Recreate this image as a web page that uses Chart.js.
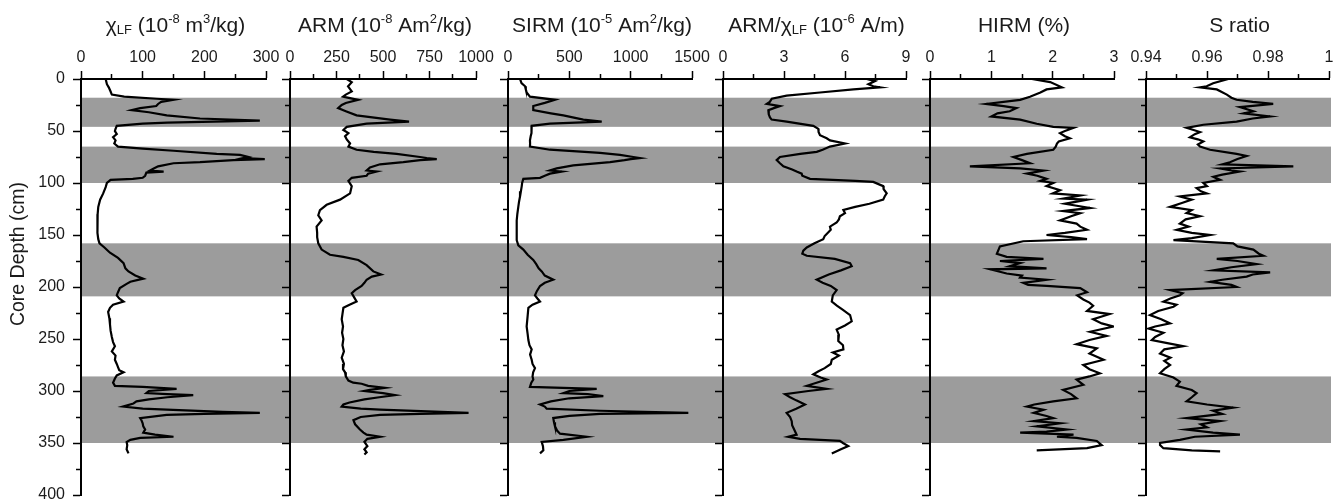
<!DOCTYPE html>
<html>
<head>
<meta charset="utf-8">
<script src="https://cdn.jsdelivr.net/npm/chart.js@4.4.0/dist/chart.umd.min.js"></script>
<style>
  html, body { margin: 0; padding: 0; background: #fff; }
  #wrap { position: relative; width: 1342px; height: 502px; overflow: hidden; }
  #wrap canvas { position: absolute; left: 0; top: 0; }
</style>
</head>
<body>
<div id="wrap"></div>
<script>
// ---- data: [core depth (cm), value] ----
const chiLF = [[0,40],[5,42],[8,45],[12,48],[15,50],[17,70],[19,123],[20,150],[22,130],[24,125],[26,122],[28,96],[30,82],[32,110],[35,139],[38,193],[40,290],[42,140],[43,100],[45,58],[48,56],[50,55],[53,58],[56,52],[59,56],[62,54],[65,60],[67,100],[69,150],[72,220],[73,258],[75,271],[76,263],[77,298],[78,247],[80,193],[81,150],[84,125],[86,118],[88,112],[89,134],[90,106],[93,104],[95,100],[96,84],[97,48],[100,42],[104,40],[110,36],[116,31],[123,28],[130,27],[136,26],[142,27],[148,27],[154,28],[158,30],[162,38],[167,47],[172,60],[177,69],[182,72],[185,77],[189,88],[192,101],[195,80],[197,74],[201,63],[205,60],[208,58],[211,62],[214,69],[217,52],[220,47],[224,44],[230,46],[236,47],[242,48],[248,50],[253,52],[257,55],[262,50],[266,56],[270,55],[274,58],[277,60],[280,62],[282,69],[285,58],[288,55],[292,52],[295,55],[296,100],[298,155],[300,110],[302,106],[303,140],[304,182],[306,140],[308,110],[310,90],[312,85],[315,68],[317,100],[318,139],[320,230],[321,290],[322,200],[323,139],[326,96],[328,98],[331,100],[334,101],[337,104],[340,101],[342,120],[344,150],[345,96],[347,80],[349,74],[352,75],[356,74],[360,77]];

const arm = [[0,305],[3,332],[7,312],[12,332],[15,300],[17,285],[20,366],[23,300],[25,278],[28,259],[31,300],[35,358],[39,538],[41,640],[43,412],[46,305],[49,287],[52,314],[55,296],[58,305],[62,323],[65,314],[68,358],[70,450],[72,573],[75,699],[76,735],[77,789],[78,700],[80,609],[82,484],[85,430],[88,412],[89,466],[91,420],[93,412],[95,332],[98,314],[103,332],[110,323],[116,269],[121,197],[126,161],[131,152],[136,170],[142,143],[148,146],[152,146],[158,152],[164,170],[169,215],[171,287],[174,367],[179,412],[185,448],[188,490],[190,440],[193,412],[196,400],[199,385],[203,350],[206,332],[210,345],[214,358],[217,320],[220,287],[226,282],[231,278],[238,285],[244,280],[250,287],[256,282],[262,290],[268,278],[274,290],[279,285],[282,296],[286,300],[290,314],[292,340],[293,385],[295,420],[297,511],[299,430],[300,400],[302,500],[304,565],[306,480],[308,400],[311,320],[313,287],[315,278],[317,380],[318,484],[321,960],[322,700],[323,484],[325,380],[328,341],[332,350],[337,376],[340,395],[342,412],[344,484],[346,416],[349,400],[353,416],[356,400],[359,412],[361,400]];

const sirm = [[0,98],[4,110],[7,139],[10,145],[13,152],[17,179],[20,383],[23,300],[26,206],[30,206],[33,350],[35,451],[39,614],[41,764],[43,342],[45,193],[48,190],[52,193],[55,185],[59,179],[62,180],[65,179],[68,342],[71,750],[73,913],[75,1022],[76,1076],[77,1000],[78,950],[80,832],[83,532],[86,397],[88,342],[89,438],[91,342],[93,300],[95,261],[96,125],[100,115],[103,112],[108,105],[113,98],[118,90],[123,84],[130,76],[136,71],[145,71],[155,71],[160,84],[164,125],[169,160],[174,206],[178,230],[182,250],[185,275],[189,300],[193,369],[196,300],[199,261],[204,235],[208,220],[211,240],[214,261],[217,200],[220,166],[228,160],[238,152],[245,160],[251,166],[256,175],[260,193],[265,180],[270,193],[274,200],[278,220],[282,205],[286,200],[289,206],[292,190],[296,179],[298,723],[300,500],[302,451],[303,650],[305,777],[307,500],[310,350],[313,261],[315,300],[317,315],[319,750],[321,1470],[322,750],[324,500],[326,369],[330,375],[334,383],[338,400],[341,424],[344,641],[347,451],[349,275],[353,285],[357,288],[360,261]];

const armChi = [[0,7.07],[2,7.48],[5,7.15],[7,7.39],[8,7.72],[10,6.41],[13,4.77],[16,3.13],[19,2.4],[22,2.3],[24,2.15],[26,2.8],[28,2.5],[30,2.23],[34,2.25],[37,2.31],[39,2.39],[41,3.13],[45,4.44],[48,4.69],[51,4.7],[54,4.77],[57,5.1],[59,5.26],[62,6.0],[65,5.26],[68,4.9],[70,4.61],[72,3.8],[75,2.8],[78,2.64],[81,2.8],[84,2.97],[87,3.4],[89,3.62],[91,3.87],[93,3.9],[96,4.28],[98,6.5],[99,7.39],[103,7.88],[106,7.9],[110,8.05],[113,7.95],[116,7.88],[120,7.2],[123,6.5],[126,5.92],[129,6.0],[132,5.75],[135,5.7],[138,5.59],[142,5.26],[145,5.3],[149,5.1],[151,5.0],[154,4.93],[158,4.5],[162,4.12],[165,3.95],[168,3.9],[170,4.12],[173,5.5],[177,6.25],[180,6.33],[184,5.8],[188,5.2],[193,4.61],[196,4.9],[199,5.3],[203,5.59],[208,5.4],[214,5.35],[218,5.6],[222,5.9],[227,6.25],[233,6.33],[237,6.0],[241,5.59],[246,5.7],[252,5.67],[256,5.9],[260,5.92],[263,5.4],[266,5.7],[270,5.35],[274,5.3],[278,5.0],[281,4.7],[284,4.44],[287,4.8],[289,5.1],[292,4.6],[295,4.12],[298,5.1],[300,4.2],[303,3.05],[306,3.3],[309,3.6],[313,4.03],[317,3.6],[321,3.13],[325,3.3],[329,3.38],[333,3.4],[337,3.5],[342,3.62],[344,3.21],[346,3.79],[348,5.75],[350,5.9],[353,6.16],[356,5.8],[360,5.35]];

const hirm = [[0,1.66],[3,1.96],[8,2.15],[10,1.9],[13,1.8],[17,1.63],[20,1.47],[24,0.92],[26,1.2],[28,1.41],[31,1.3],[33,1.1],[36,1.0],[39,1.47],[43,1.74],[46,2.01],[47,2.34],[50,2.2],[52,2.12],[55,2.2],[57,2.28],[60,2.1],[62,2.07],[65,2.05],[68,2.01],[72,1.58],[75,1.36],[78,1.5],[81,1.63],[84,0.65],[86,1.47],[88,1.85],[91,1.58],[93,1.75],[96,1.9],[98,1.8],[100,2.01],[103,1.9],[107,2.12],[110,2.0],[112,2.45],[115,2.17],[116,2.56],[120,2.2],[124,2.61],[127,2.17],[129,2.45],[132,2.3],[136,2.12],[139,2.39],[142,2.45],[145,2.56],[148,2.2],[150,1.9],[152,2.3],[154,2.56],[156,1.52],[161,1.14],[168,1.09],[171,1.25],[173,1.85],[175,1.14],[177,1.47],[180,1.3],[182,1.9],[183,0.98],[187,1.25],[189,1.5],[191,1.47],[193,1.9],[196,1.52],[198,1.6],[199,1.9],[201,2.45],[205,2.56],[208,2.4],[212,2.5],[215,2.6],[218,2.66],[223,2.56],[226,2.93],[231,2.66],[235,2.8],[238,2.99],[243,2.61],[247,2.88],[251,2.6],[255,2.39],[259,2.72],[264,2.6],[270,2.83],[275,2.5],[279,2.6],[283,2.77],[286,2.6],[289,2.39],[294,2.5],[299,2.17],[303,2.3],[307,2.39],[310,2.01],[313,1.7],[315,1.58],[318,1.85],[321,1.69],[324,1.9],[326,2.01],[329,1.69],[331,2.12],[334,1.74],[337,2.23],[339,1.9],[340,1.47],[342,2.34],[344,2.07],[345,2.39],[348,2.72],[352,2.8],[355,2.56],[357,1.74]];

const sRatio = [[0,0.967],[4,0.962],[7,0.9599],[8,0.9577],[10,0.9632],[15,0.9665],[18,0.968],[20,0.9697],[22,0.975],[24,0.9817],[27,0.9708],[31,0.9752],[33,0.972],[36,0.9807],[38,0.975],[41,0.9697],[44,0.9588],[47,0.9533],[51,0.9577],[53,0.956],[56,0.9544],[58,0.957],[60,0.9588],[63,0.957],[65,0.9577],[68,0.961],[72,0.9697],[74,0.973],[77,0.97],[80,0.9675],[82,0.965],[84,0.9883],[86,0.9643],[88,0.968],[89,0.9708],[92,0.965],[94,0.9621],[97,0.9643],[100,0.9588],[103,0.96],[105,0.9566],[108,0.958],[110,0.9599],[113,0.9511],[116,0.955],[119,0.952],[123,0.9479],[126,0.955],[129,0.9533],[132,0.9577],[135,0.953],[139,0.9511],[142,0.954],[145,0.9501],[148,0.955],[150,0.961],[153,0.955],[155,0.949],[158,0.9686],[161,0.97],[164,0.9752],[168,0.977],[170,0.9785],[173,0.9632],[175,0.97],[178,0.9763],[181,0.968],[184,0.9621],[186,0.9807],[188,0.975],[190,0.973],[193,0.965],[195,0.961],[198,0.968],[200,0.9697],[203,0.9479],[206,0.952],[208,0.9511],[211,0.948],[214,0.9457],[217,0.95],[219,0.949],[223,0.944],[227,0.9413],[231,0.945],[235,0.9479],[238,0.943],[240,0.9408],[244,0.9457],[248,0.943],[251,0.9419],[254,0.947],[257,0.9522],[260,0.946],[264,0.9446],[268,0.948],[271,0.946],[275,0.9479],[279,0.946],[283,0.9446],[287,0.949],[291,0.9511],[295,0.95],[299,0.955],[302,0.9566],[306,0.955],[310,0.9533],[313,0.96],[316,0.9686],[319,0.962],[322,0.965],[326,0.9533],[329,0.9643],[332,0.958],[335,0.96],[337,0.9533],[340,0.962],[342,0.9708],[344,0.956],[347,0.9511],[350,0.9446],[352,0.9446],[355,0.9457],[357,0.955],[358,0.9643]];

// shaded depth intervals (cm)
const bands = [[18, 46], [65, 100], [158, 209], [286, 350]];

// axis ranges: [min, max, minor step]
const xRanges = [[0, 300, 50], [0, 1000, 125], [0, 1500, 250], [0, 9, 1.5], [0, 3, 0.5], [0.94, 1, 0.01]];
const depthRange = [0, 400, 25];

// panel titles as [text, 'sub' | 'sup'] pieces
const titles = [
  [['χ'], ['LF', 'sub'], [' (10'], ['-8', 'sup'], [' m'], ['3', 'sup'], ['/kg)']],
  [['ARM (10'], ['-8', 'sup'], [' Am'], ['2', 'sup'], ['/kg)']],
  [['SIRM (10'], ['-5', 'sup'], [' Am'], ['2', 'sup'], ['/kg)']],
  [['ARM/χ'], ['LF', 'sub'], [' (10'], ['-6', 'sup'], [' A/m)']],
  [['HIRM (%)']],
  [['S ratio']]
];
const yTitle = 'Core Depth (cm)';
const series = [chiLF, arm, sirm, armChi, hirm, sRatio];

// ---- layout ----
const W = 1342, H = 502;
const panelLeft = [81, 290, 508, 723, 930, 1146];
const panelRight = [266, 476, 692, 906, 1114, 1329];
const plotTop = 79, plotBottom = 495;
const FONT = "'Liberation Sans', Arial, Helvetica, sans-serif";
const INK = '#1b1b1b';
const GRAY = '#9c9c9c';

const bandPlugin = {
  id: 'bands',
  beforeDraw(chart, args, opts) {
    const { ctx, chartArea } = chart;
    const y = chart.scales.y;
    ctx.save();
    ctx.fillStyle = GRAY;
    bands.forEach(([a, b]) => {
      const y1 = y.getPixelForValue(a), y2 = y.getPixelForValue(b);
      ctx.fillRect(chartArea.left, y1, opts.right - chartArea.left, y2 - y1);
    });
    ctx.restore();
  }
};

const titlePlugin = {
  id: 'richTitle',
  afterDraw(chart, args, opts) {
    const ctx = chart.ctx;
    const size = { n: 21, sub: 13, sup: 13 };
    const shift = { n: 0, sub: 2, sup: -9 };
    ctx.save();
    ctx.fillStyle = INK;
    ctx.textAlign = 'left';
    ctx.textBaseline = 'alphabetic';
    let total = 0;
    opts.parts.forEach(([t, k = 'n']) => {
      ctx.font = size[k] + 'px ' + FONT;
      total += ctx.measureText(t).width;
    });
    let x = (chart.chartArea.left + chart.chartArea.right) / 2 - total / 2 + 2;
    opts.parts.forEach(([t, k = 'n']) => {
      ctx.font = size[k] + 'px ' + FONT;
      ctx.fillText(t, x, 32 + shift[k]);
      x += ctx.measureText(t).width;
    });
    if (opts.yTitle) {
      ctx.translate(19, 254);
      ctx.rotate(-Math.PI / 2);
      ctx.textAlign = 'center';
      ctx.textBaseline = 'middle';
      ctx.font = '19.5px ' + FONT;
      ctx.fillText(opts.yTitle, 0, 0);
    }
    ctx.restore();
  }
};

// shorter minor ticks: dash the tick so only the inner part is drawn
const minorDash = [5, 50];
const minorOffset = 52;

const fmt = v => String(Number(v.toFixed(2)));

const wrap = document.getElementById('wrap');
series.forEach((data, i) => {
  const canvas = document.createElement('canvas');
  canvas.width = W; canvas.height = H;
  wrap.appendChild(canvas);
  const [xmin, xmax, xstep] = xRanges[i];
  const first = i === 0;
  const yW = first ? panelLeft[0] : 8;
  const bandRight = i < 5 ? panelLeft[i + 1] : panelRight[i] + 2;

  new Chart(canvas, {
    type: 'line',
    data: {
      datasets: [{
        data: data.map(([d, v]) => ({ x: v, y: d })),
        borderColor: '#000',
        borderWidth: 2.2,
        pointRadius: 0,
        tension: 0,
        fill: false
      }]
    },
    options: {
      responsive: false,
      animation: false,
      devicePixelRatio: 1,
      indexAxis: 'y',
      layout: { padding: { left: panelLeft[i] - yW, right: W - panelRight[i], top: 0, bottom: H - plotBottom } },
      plugins: {
        legend: { display: false },
        tooltip: { enabled: false },
        bands: { right: bandRight },
        richTitle: { parts: titles[i], yTitle: first ? yTitle : null }
      },
      scales: {
        x: {
          type: 'linear',
          position: 'top',
          min: xmin,
          max: xmax,
          afterFit: s => { s.height = plotTop; s.paddingLeft = 0; s.paddingRight = 0; },
          ticks: {
            stepSize: xstep,
            autoSkip: false,
            maxRotation: 0,
            minRotation: 0,
            padding: 4,
            color: INK,
            font: { family: FONT, size: 16 },
            callback: (v, idx) => (idx % 2 ? '' : fmt(v))
          },
          grid: {
            drawOnChartArea: false,
            drawTicks: true,
            tickLength: 8,
            tickWidth: 1.5,
            tickColor: '#000',
            tickBorderDash: c => (c.index % 2 ? minorDash : []),
            tickBorderDashOffset: c => (c.index % 2 ? minorOffset : 0)
          },
          border: { display: true, color: '#000', width: 2 }
        },
        y: {
          type: 'linear',
          position: 'left',
          reverse: true,
          min: depthRange[0],
          max: depthRange[1],
          afterFit: s => { s.width = yW; s.paddingTop = 0; s.paddingBottom = 0; },
          ticks: {
            display: first,
            stepSize: depthRange[2],
            autoSkip: false,
            padding: 8,
            color: INK,
            font: { family: FONT, size: 16 },
            callback: v => (v % 50 ? '' : v)
          },
          grid: {
            drawOnChartArea: false,
            drawTicks: true,
            tickLength: 8,
            tickWidth: 1.5,
            tickColor: '#000',
            tickBorderDash: c => (c.tick && c.tick.value % 50 ? minorDash : []),
            tickBorderDashOffset: c => (c.tick && c.tick.value % 50 ? minorOffset : 0)
          },
          border: { display: true, color: '#000', width: 2 }
        }
      }
    },
    plugins: [bandPlugin, titlePlugin]
  });
});
</script>
</body>
</html>
